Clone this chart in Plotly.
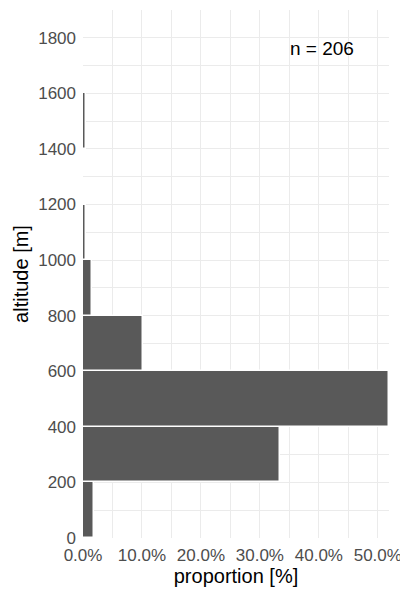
import plotly.graph_objects as go

bin_starts = [0, 200, 400, 600, 800, 1000, 1200, 1400]
counts = [4, 69, 107, 21, 3, 1, 0, 1]
n_total = 206
x_tick_vals = [0, 10, 20, 30, 40, 50]
x_tick_text = ["0.0%", "10.0%", "20.0%", "30.0%", "40.0%", "50.0%"]
y_tick_vals = [0, 200, 400, 600, 800, 1000, 1200, 1400, 1600, 1800]

bin_width = 200
centers = [s + bin_width / 2 for s in bin_starts]
props = [c / n_total * 100 for c in counts]

font_family = "Liberation Sans, Arial, sans-serif"

fig = go.Figure()
fig.add_trace(go.Bar(
    x=props, y=centers, orientation="h", width=bin_width,
    marker=dict(color="#595959", line=dict(color="white", width=1.5)),
    showlegend=False,
))

grid = "#ebebeb"
fig.update_layout(
    width=400, height=600,
    margin=dict(l=83, r=11, t=10, b=62),
    paper_bgcolor="white", plot_bgcolor="white",
    font=dict(family=font_family, color="#4d4d4d", size=17),
    bargap=0,
    xaxis=dict(
        range=[0, 51.9], tickvals=x_tick_vals, ticktext=x_tick_text,
        automargin=False, ticklabeloverflow="allow",
        showgrid=True, gridcolor=grid, gridwidth=1.2,
        minor=dict(tickvals=[5, 15, 25, 35, 45], showgrid=True, gridcolor=grid, gridwidth=0.6),
        zeroline=False, showline=False, ticks="",
        ticklabelstandoff=5,
        tickfont=dict(size=17, color="#4d4d4d"),
        title=dict(text="proportion [%]", font=dict(size=20, color="black"), standoff=4),
    ),
    yaxis=dict(
        range=[0, 1900], tickvals=y_tick_vals,
        automargin=False,
        showgrid=True, gridcolor=grid, gridwidth=1.2,
        minor=dict(tickvals=[100, 300, 500, 700, 900, 1100, 1300, 1500, 1700], showgrid=True, gridcolor=grid, gridwidth=0.6),
        zeroline=False, showline=False, ticks="",
        ticklabelstandoff=6,
        tickfont=dict(size=17, color="#4d4d4d"),
        title=dict(text="altitude [m]", font=dict(size=20, color="black"), standoff=4),
    ),
    annotations=[dict(
        x=40.5, y=1763, xref="x", yref="y", text="n = 206", showarrow=False,
        xanchor="center", yanchor="middle", font=dict(size=19, color="black", family=font_family),
    )],
)

fig.write_html("out.html")
